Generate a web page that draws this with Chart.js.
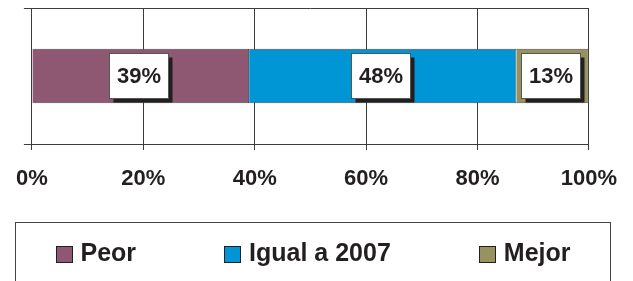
<!DOCTYPE html>
<html lang="es">
<head>
    <meta charset="UTF-8">
    <title>Peor / Igual / Mejor</title>
    <script src="https://cdn.jsdelivr.net/npm/chart.js"></script>
    <style>
        body {
            margin: 0;
            background-color: #ffffff;
        }
        #wrap {
            width: 633px;
            height: 281px;
        }
    </style>
</head>
<body>
    <div id="wrap">
        <canvas id="myChart" width="633" height="281"></canvas>
    </div>

    <script>
        // datos
        const categorias = [''];
        const series = ['Peor', 'Igual a 2007', 'Mejor'];
        const valores = [39, 48, 13];
        const colores = ['#8e5872', '#0096d6', '#989260'];
        const ticksX = [0, 20, 40, 60, 80, 100];

        const fuente = "'Liberation Sans', Arial, sans-serif";
        const oscuro = '#231f20';
        const linea = '#3c3c3c';

        // etiquetas de datos en cajas blancas con sombra
        const etiquetas = {
            id: 'etiquetas',
            afterDatasetsDraw(chart) {
                const ctx = chart.ctx;
                ctx.save();
                chart.data.datasets.forEach(function(ds, i) {
                    const meta = chart.getDatasetMeta(i);
                    meta.data.forEach(function(bar, j) {
                        const p = bar.getProps(['x', 'y', 'base'], true);
                        const cx = (p.x + p.base) / 2 - 2;
                        const cy = p.y - 0.5;
                        const w = 59, h = 45;
                        const l = Math.round(cx - w / 2) + 0.5;
                        const t = Math.round(cy - h / 2) + 0.5;
                        ctx.fillStyle = oscuro;
                        ctx.fillRect(l + 4, t + 4, w, h);
                        ctx.fillStyle = '#ffffff';
                        ctx.fillRect(l, t, w, h);
                        ctx.strokeStyle = '#555555';
                        ctx.lineWidth = 1;
                        ctx.strokeRect(l, t, w, h);
                        ctx.fillStyle = oscuro;
                        ctx.font = 'bold 22px ' + fuente;
                        ctx.textAlign = 'center';
                        ctx.textBaseline = 'middle';
                        ctx.fillText(ds.data[j] + '%', l + w / 2, t + h / 2 + 1);
                    });
                });
                ctx.restore();
            }
        };

        // leyenda dentro de un recuadro abajo
        const leyenda = {
            id: 'leyenda',
            afterDraw(chart) {
                const ctx = chart.ctx;
                const bx = 15.5, by = 222.5, bw = 595, bh = 80;
                ctx.save();
                ctx.strokeStyle = '#444444';
                ctx.lineWidth = 1;
                ctx.strokeRect(bx, by, bw, bh);

                ctx.font = 'bold 25px ' + fuente;
                ctx.textBaseline = 'middle';
                ctx.textAlign = 'left';
                const caja = 16, sep = 9, pad = 40;
                const anchos = chart.data.datasets.map(function(ds) {
                    return caja + sep + ctx.measureText(ds.label).width;
                });
                const total = anchos.reduce(function(a, b) { return a + b; }, 0);
                const hueco = (bw - 2 * pad - total) / (anchos.length - 1);
                let x = bx + pad;
                const cy = 254;
                chart.data.datasets.forEach(function(ds, i) {
                    ctx.fillStyle = ds.backgroundColor;
                    ctx.fillRect(Math.round(x) + 0.5, cy - 8 + 0.5, caja, caja);
                    ctx.strokeStyle = oscuro;
                    ctx.strokeRect(Math.round(x) + 0.5, cy - 8 + 0.5, caja, caja);
                    ctx.fillStyle = oscuro;
                    ctx.fillText(ds.label, x + caja + sep, cy);
                    x += anchos[i] + hueco;
                });
                ctx.restore();
            }
        };

        const ctx = document.getElementById('myChart').getContext('2d');
        const chart = new Chart(ctx, {
            type: 'bar',
            data: {
                labels: categorias,
                datasets: series.map(function(nombre, i) {
                    return {
                        label: nombre,
                        data: [valores[i]],
                        backgroundColor: colores[i],
                        borderColor: '#4a4a4a',
                        borderWidth: 1,
                        categoryPercentage: 1,
                        barPercentage: 0.4
                    };
                })
            },
            options: {
                indexAxis: 'y',
                responsive: false,
                animation: false,
                layout: {
                    padding: { left: 8, top: 8, right: 42, bottom: 87 }
                },
                plugins: {
                    legend: { display: false },
                    tooltip: { enabled: false }
                },
                scales: {
                    x: {
                        stacked: true,
                        min: 0,
                        max: 100,
                        afterBuildTicks: function(scale) {
                            scale.ticks = ticksX.map(function(v) { return { value: v }; });
                        },
                        afterFit: function(scale) { scale.height = 50; },
                        ticks: {
                            maxRotation: 0,
                            padding: 16,
                            color: oscuro,
                            font: { family: fuente, size: 22, weight: 'bold' },
                            callback: function(v) { return v + '%'; }
                        },
                        grid: {
                            color: linea,
                            lineWidth: 1,
                            tickLength: 6,
                            drawTicks: true
                        },
                        border: { color: linea, width: 1 }
                    },
                    y: {
                        stacked: true,
                        afterFit: function(scale) { scale.width = 22; },
                        ticks: { display: false },
                        grid: {
                            offset: true,
                            color: linea,
                            lineWidth: 1,
                            tickLength: 8
                        },
                        border: { color: linea, width: 1 }
                    }
                }
            },
            plugins: [etiquetas, leyenda]
        });
    </script>
</body>
</html>
